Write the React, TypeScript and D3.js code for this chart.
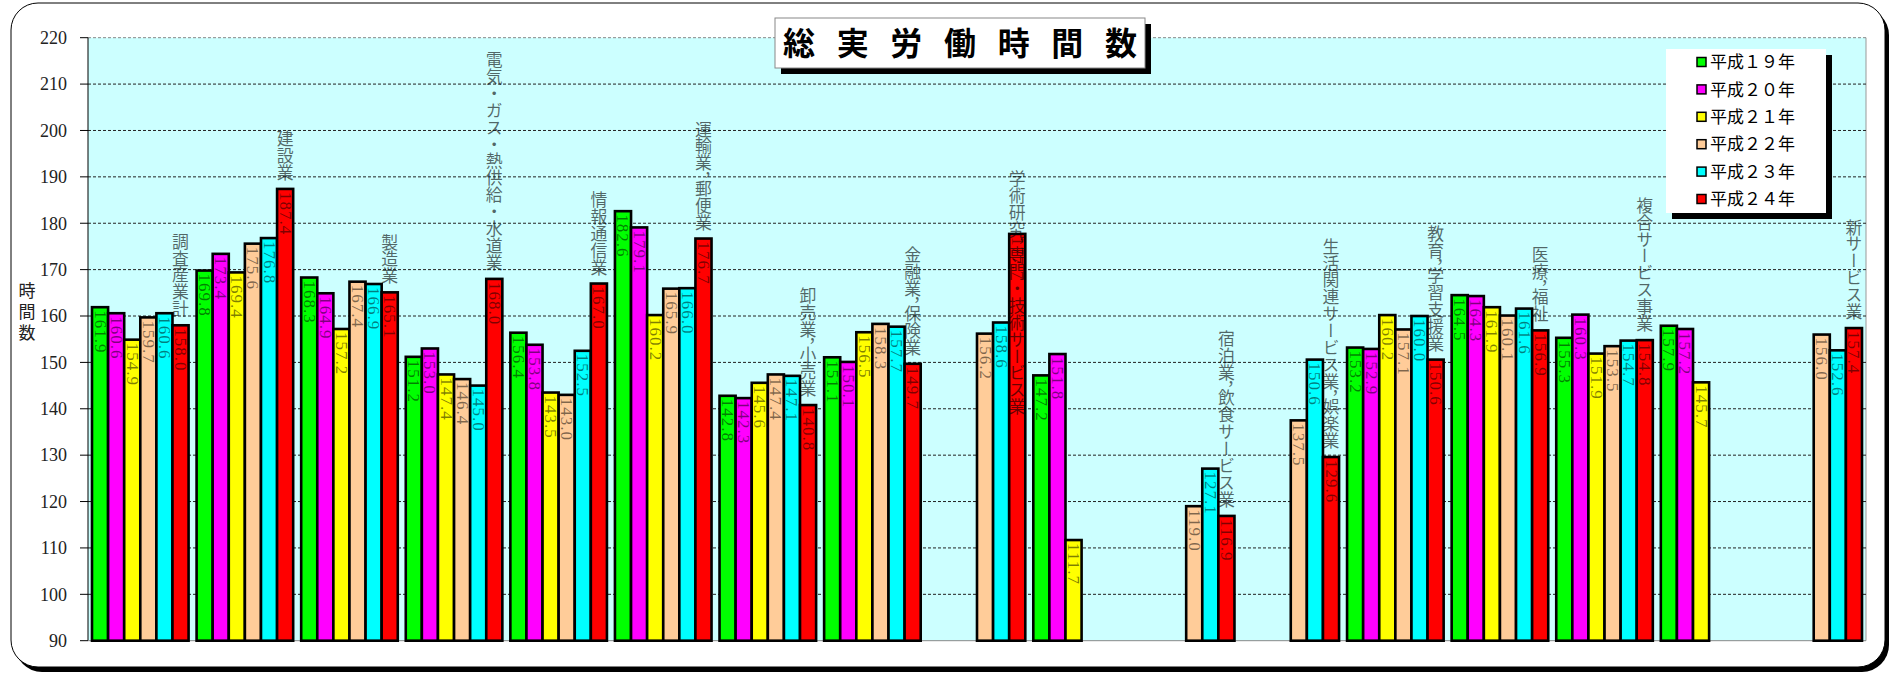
import React from "react";
import * as d3 from "d3";

const W = 1889;
const H = 673;

const categories = [
  "調査産業計",
  "建設業",
  "製造業",
  "電気・ガス・熱供給・水道業",
  "情報通信業",
  "運輸業，郵便業",
  "卸売業，小売業",
  "金融業，保険業",
  "学術研究，専門・技術サービス業",
  "",
  "宿泊業，飲食サービス業",
  "生活関連サービス業，娯楽業",
  "教育，学習支援業",
  "医療，福祉",
  "複合サービス事業",
  "",
  "新サービス業",
];

const seriesNames = ["平成１９年", "平成２０年", "平成２１年", "平成２２年", "平成２３年", "平成２４年"];
const seriesColors = ["#00FF00", "#FF00FF", "#FFFF00", "#FFCC99", "#00FFFF", "#FF0000"];

const h19 = [161.9, 169.8, 168.3, 151.2, 156.4, 182.6, 142.8, 151.1, null, 147.2, null, null, 153.2, 164.5, 155.3, 157.9, null];
const h20 = [160.6, 173.4, 164.9, 153.0, 153.8, 179.1, 142.3, 150.1, null, 151.8, null, null, 152.9, 164.3, 160.3, 157.2, null];
const h21 = [154.9, 169.4, 157.2, 147.4, 143.5, 160.2, 145.6, 156.5, null, 111.7, null, null, 160.2, 161.9, 151.9, 145.7, null];
const h22 = [159.7, 175.6, 167.4, 146.4, 143.0, 165.9, 147.4, 158.3, 156.2, null, 119.0, 137.5, 157.1, 160.1, 153.5, null, 156.0];
const h23 = [160.6, 176.8, 166.9, 145.0, 152.5, 166.0, 147.1, 157.7, 158.6, null, 127.1, 150.6, 160.0, 161.6, 154.7, null, 152.6];
const h24 = [158.0, 187.4, 165.1, 168.0, 167.0, 176.7, 140.8, 149.7, 177.7, null, 116.9, 129.6, 150.6, 156.9, 154.8, null, 157.4];

const seriesValues: (number | null)[][] = [h19, h20, h21, h22, h23, h24];
const yTicks = [90, 100, 110, 120, 130, 140, 150, 160, 170, 180, 190, 200, 210, 220];

// category label that sits lower than its bar (value in hours where the label ends)
const labelBaseOverride: Record<number, number> = { 8: 138.6 };

const TITLE = "総 実 労 働 時 間 数";
const Y_TITLE = "時間数";

function VerticalLabel({ text }: { text: string }) {
  const parts = text.split("，");
  return (
    <>
      {parts.map((p, i) => (
        <React.Fragment key={i}>
          {i > 0 && <tspan style={{ fontFeatureSettings: '"vhal"' }}>，</tspan>}
          {p}
        </React.Fragment>
      ))}
    </>
  );
}

export default function App() {
  const plot = { left: 88, right: 1866, top: 37.7, bottom: 640.7 };
  const y = d3.scaleLinear().domain([90, 220]).range([plot.bottom, plot.top]);
  const x0 = d3
    .scaleBand<number>()
    .domain(d3.range(categories.length))
    .range([plot.left, plot.right])
    .paddingInner(0.0765)
    .paddingOuter(0.0765 / 2);
  const x1 = d3.scaleBand<number>().domain(d3.range(seriesValues.length)).range([0, x0.bandwidth()]);

  const serif = "'Liberation Serif', 'DejaVu Serif', serif";
  const cjk = "'Noto Sans CJK JP', 'Noto Sans', sans-serif";

  return (
    <svg width={W} height={H} style={{ position: "absolute", left: 0, top: 0, background: "#fff" }}>
      {/* outer frame */}
      <rect x={15} y={8} width={1874} height={664} rx={27} fill="#000" />
      <rect x={11} y={3} width={1874} height={664} rx={27} fill="#fff" stroke="#000" strokeWidth={1} />

      {/* plot area */}
      <rect x={plot.left} y={plot.top} width={plot.right - plot.left} height={plot.bottom - plot.top} fill="#CCFFFF" />
      <line x1={plot.right} x2={plot.right} y1={plot.top} y2={plot.bottom} stroke="#999" strokeWidth={1} />
      {yTicks.slice(1).map((t) => (
        <line
          key={"g" + t}
          x1={plot.left}
          x2={plot.right}
          y1={y(t)}
          y2={y(t)}
          stroke={t === 220 ? "#888" : "#222"}
          strokeWidth={1}
          strokeDasharray="3,2"
        />
      ))}

      {/* y axis */}
      <line x1={plot.left} x2={plot.left} y1={plot.top} y2={plot.bottom} stroke="#000" strokeWidth={1} />
      <line x1={plot.left} x2={plot.right} y1={plot.bottom} y2={plot.bottom} stroke="#888" strokeWidth={1} />
      {yTicks.map((t) => (
        <g key={"t" + t}>
          <line x1={plot.left - 8} x2={plot.left} y1={y(t)} y2={y(t)} stroke="#000" strokeWidth={1} />
          <text x={67} y={y(t)} dy="0.35em" textAnchor="end" fontFamily={serif} fontSize={18} fill="#222">
            {t}
          </text>
        </g>
      ))}
      <text
        x={27}
        y={282}
        fontFamily={cjk}
        fontSize={17}
        fill="#222"
        style={{ writingMode: "vertical-rl", letterSpacing: "4px" }}
      >
        {Y_TITLE}
      </text>

      {/* bars */}
      {seriesValues.map((vals, si) =>
        vals.map((v, ci) => {
          if (v == null) return null;
          const bx = (x0(ci) as number) + (x1(si) as number);
          const bw = x1.bandwidth();
          return (
            <rect
              key={`b${si}-${ci}`}
              x={bx}
              y={y(v)}
              width={bw}
              height={plot.bottom - y(v)}
              fill={seriesColors[si]}
              stroke="#000"
              strokeWidth={2.6}
            />
          );
        })
      )}

      {/* value labels */}
      {seriesValues.map((vals, si) =>
        vals.map((v, ci) => {
          if (v == null) return null;
          const cx = (x0(ci) as number) + (x1(si) as number) + x1.bandwidth() / 2;
          const ty = y(v) + 3;
          return (
            <text
              key={`v${si}-${ci}`}
              transform={`translate(${cx},${ty}) rotate(90)`}
              dominantBaseline="central"
              fontFamily={serif}
              fontSize={17}
              letterSpacing={1}
              fill="#000"
              fillOpacity={0.5}
            >
              {v.toFixed(1)}
            </text>
          );
        })
      )}

      {/* category labels */}
      {categories.map((c, ci) => {
        if (!c) return null;
        const last = seriesValues.length - 1;
        const cx = (x0(ci) as number) + (x1(last) as number) + x1.bandwidth() / 2;
        const base = labelBaseOverride[ci] ?? (seriesValues[last][ci] as number);
        const by = labelBaseOverride[ci] != null ? y(base) : y(base) - 8;
        return (
          <text
            key={"c" + ci}
            x={cx}
            y={by}
            textAnchor="end"
            fontFamily={cjk}
            fontSize={16.9}
            fill="#000"
            fillOpacity={0.6}
            style={{ writingMode: "vertical-rl" }}
          >
            <VerticalLabel text={c} />
          </text>
        );
      })}

      {/* title */}
      <rect x={781} y={24} width={370} height={50} fill="#000" />
      <rect x={775} y={18} width={370} height={50} fill="#fff" stroke="#888" strokeWidth={1} />
      <text
        x={783}
        y={43}
        dy="0.36em"
        fontFamily={cjk}
        fontWeight="bold"
        fontSize={32}
        fill="#000"
        textLength={354}
        lengthAdjust="spacing"
      >
        {TITLE}
      </text>

      {/* legend */}
      <rect x={1672} y={55} width={160} height={164} fill="#000" />
      <rect x={1666} y={49} width={160} height={164} fill="#fff" />
      {seriesNames.map((n, i) => {
        const ly = 62 + i * 27.4;
        return (
          <g key={"l" + i}>
            <rect x={1697} y={ly - 4.5} width={9} height={9} fill={seriesColors[i]} stroke="#000" strokeWidth={1.5} />
            <text x={1710} y={ly} dy="0.36em" fontFamily={cjk} fontSize={17} fill="#000">
              {n}
            </text>
          </g>
        );
      })}
    </svg>
  );
}
